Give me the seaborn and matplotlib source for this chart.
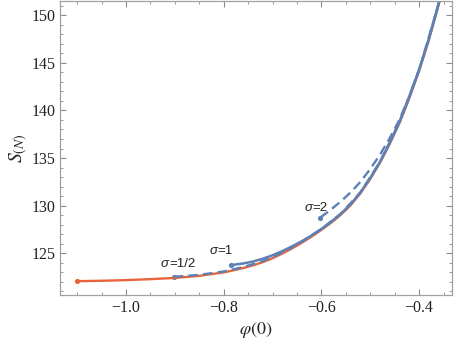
import numpy as np
import pandas as pd
import seaborn as sns
import matplotlib.pyplot as plt
from matplotlib.ticker import MultipleLocator

# values
phi_main = [-1.10, -1.05, -1.00, -0.95, -0.90, -0.85, -0.80, -0.78, -0.76, -0.74,
            -0.72, -0.70, -0.68, -0.66, -0.64, -0.62, -0.60, -0.58, -0.56, -0.54,
            -0.52, -0.50, -0.48, -0.46, -0.44, -0.42, -0.40, -0.38, -0.36, -0.34]
s_main = [122.06, 122.10, 122.17, 122.27, 122.40, 122.62, 122.98, 123.20, 123.44, 123.72,
          124.06, 124.47, 124.96, 125.50, 126.10, 126.75, 127.45, 128.20, 129.05, 130.05,
          131.30, 132.80, 134.50, 136.50, 138.70, 141.30, 144.15, 147.40, 151.10, 155.30]

phi_s1 = [-0.786, -0.76, -0.74, -0.72, -0.70, -0.68, -0.66, -0.64, -0.62, -0.60, -0.58,
          -0.56, -0.54, -0.52, -0.50, -0.48, -0.46, -0.44, -0.42, -0.40, -0.38, -0.36, -0.34]
s_s1 = [123.74, 123.92, 124.12, 124.42, 124.78, 125.22, 125.72, 126.26, 126.87, 127.55, 128.30,
        129.15, 130.15, 131.40, 132.90, 134.60, 136.60, 138.80, 141.42, 144.28, 147.53, 151.23, 155.43]

phi_half = [-0.902, -0.85, -0.80, -0.76, -0.72, -0.68, -0.64, -0.60, -0.56, -0.52,
            -0.48, -0.44, -0.40, -0.36, -0.34]
s_half = [122.52, 122.72, 123.08, 123.54, 124.16, 125.06, 126.20, 127.55, 129.15, 131.40,
          134.60, 138.80, 144.25, 151.20, 155.40]

phi_s2 = [-0.602, -0.58, -0.56, -0.54, -0.52, -0.50, -0.48, -0.46, -0.44, -0.42,
          -0.40, -0.38, -0.36, -0.34]
s_s2 = [128.75, 129.60, 130.45, 131.40, 132.50, 133.85, 135.35, 137.10, 139.05, 141.50,
        144.30, 147.50, 151.20, 155.40]

label_vals = ['=1/2', '=1', '=2']
label_phi = [-0.912, -0.812, -0.619]
label_s = [123.85, 125.2, 129.8]

orange = '#E8643A'
blue = '#5E81B5'

sns.set_style('ticks')
plt.rcParams['font.family'] = ['Liberation Serif', 'DejaVu Serif']
plt.rcParams['mathtext.fontset'] = 'stix'

fig, ax = plt.subplots(figsize=(4.55, 3.5), dpi=100)
fig.subplots_adjust(left=0.132, right=0.993, bottom=0.157, top=0.997)

sns.lineplot(x=phi_main, y=s_main, color=orange, lw=1.7, sort=False, estimator=None, ax=ax)
sns.lineplot(x=phi_half, y=s_half, color=blue, lw=1.7, linestyle=(0, (4, 2.2)),
             sort=False, estimator=None, ax=ax)
sns.lineplot(x=phi_s2, y=s_s2, color=blue, lw=1.7, linestyle=(0, (4, 2.2)),
             sort=False, estimator=None, ax=ax)
sns.lineplot(x=phi_s1, y=s_s1, color=blue, lw=1.8, sort=False, estimator=None, ax=ax)

# start points
sns.scatterplot(x=[phi_main[0]], y=[s_main[0]], color=orange, s=14, linewidth=0, ax=ax)
sns.scatterplot(x=[phi_half[0], phi_s1[0], phi_s2[0]], y=[s_half[0], s_s1[0], s_s2[0]],
                color=blue, s=14, linewidth=0, ax=ax)

# curve labels: italic sigma followed by the value
sans = ['Liberation Sans', 'DejaVu Sans']
for t, px, py in zip(label_vals, label_phi, label_s):
    ax.text(px, py, 'σ', ha='right', va='center', fontsize=9.5, color='#222222',
            family=sans, style='italic')
    ax.text(px, py, t, ha='left', va='center', fontsize=9.5, color='#222222', family=sans)

ax.set_xlim(-1.135, -0.333)
ax.set_ylim(120.6, 151.5)
ax.xaxis.set_major_locator(MultipleLocator(0.2))
ax.xaxis.set_minor_locator(MultipleLocator(0.05))
ax.yaxis.set_minor_locator(MultipleLocator(1))
ax.set_yticks([125, 130, 135, 140, 145, 150])
ax.tick_params(which='both', direction='in', top=True, right=True, color='#8a8a8a',
               labelsize=11.5, labelcolor='#222222')
ax.tick_params(which='major', length=4, width=0.8)
ax.tick_params(which='minor', length=2, width=0.6)
for sp in ax.spines.values():
    sp.set_color('#a0a0a0')
    sp.set_linewidth(0.9)

ax.set_xlabel(r'$\varphi(0)$', fontsize=13, color='#222222', labelpad=3)
ax.set_ylabel(r'$S_{(N)}$', fontsize=14, color='#222222', labelpad=1)

fig.savefig('out.png', dpi=100)
